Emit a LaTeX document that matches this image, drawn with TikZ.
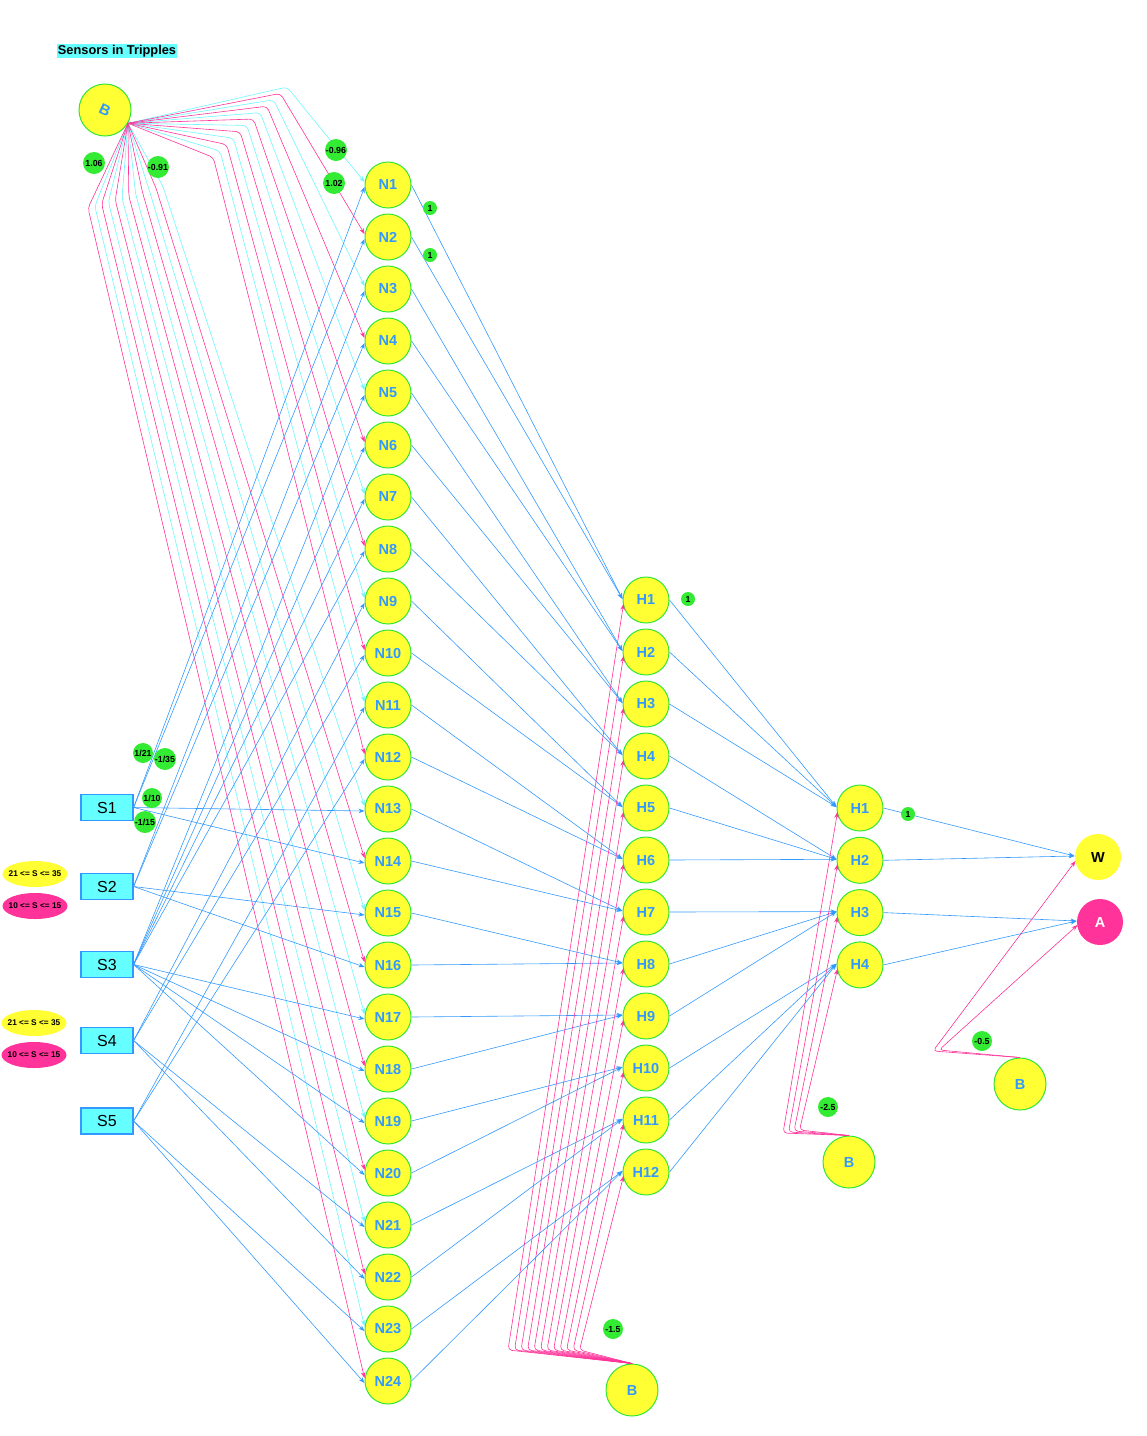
\documentclass[tikz,border=0pt]{standalone}
\usepackage{fontspec}
\setmainfont{Liberation Sans}
\usetikzlibrary{arrows.meta,calc,shapes.geometric}
\definecolor{nyellow}{RGB}{255,255,51}
\definecolor{ngreen}{RGB}{51,230,51}
\definecolor{lgreen}{RGB}{51,235,51}
\definecolor{lblue}{RGB}{51,153,255}
\definecolor{lcyan}{RGB}{110,245,255}
\definecolor{lpink}{RGB}{255,51,153}
\definecolor{scyan}{RGB}{102,255,255}
\begin{document}
\begin{tikzpicture}[x=1pt,y=-1pt,
  neuron/.style={circle, draw=ngreen, fill=nyellow, line width=1pt, minimum size=46pt, inner sep=0pt, text=lblue, font=\fontsize{14.5}{15}\selectfont\bfseries},
  biasn/.style={neuron, minimum size=52pt},
  sensor/.style={rectangle, draw=lblue, fill=scyan, line width=1.2pt, minimum width=52pt, minimum height=26pt, inner sep=0pt, font=\fontsize{16}{16}\selectfont},
  wt/.style={circle, fill=lgreen, inner sep=0pt, minimum size=22pt, font=\fontsize{8.8}{9}\selectfont\bfseries},
  wts/.style={wt, minimum size=14pt},
  legy/.style={ellipse, fill=nyellow, minimum width=65pt, minimum height=26pt, inner xsep=-6pt, inner ysep=0pt, font=\fontsize{8.3}{9}\selectfont\bfseries},
  legp/.style={legy, fill=lpink},
  tip/.style={-{Stealth[length=6pt,width=4.5pt]}},
  edge/.style={draw=lblue, line width=0.6pt, tip},
  cb/.style={draw=lcyan, line width=0.6pt, rounded corners=4pt, tip},
  pb/.style={draw=lpink, line width=0.6pt, rounded corners=4pt, tip}
]
\useasboundingbox (0,0) rectangle (1147,1436);

% title
\node[fill=scyan, inner sep=1pt, font=\fontsize{12.8}{13}\selectfont\bfseries] (title) at (117,51) {Sensors in Tripples};

% legend
\node[legy] (l1) at (35,874) {21 <= S <= 35};
\node[legp] (l2) at (35,906) {10 <= S <= 15};
\node[legy] (l3) at (34,1023) {21 <= S <= 35};
\node[legp] (l4) at (34,1055) {10 <= S <= 15};

% nodes
\foreach \k in {1,...,24} \node[neuron] (N\k) at (388,{185+52*(\k-1)}) {N\k};
\foreach \k in {1,...,12} \node[neuron] (H\k) at (646,{600+52*(\k-1)}) {H\k};
\foreach \k in {1,...,4} \node[neuron] (G\k) at (860,{808+52.3*(\k-1)}) {H\k};
\node[neuron, draw=none, text=black] (W) at (1098,857) {W};
\node[neuron, draw=none, fill=lpink, text=white] (A) at (1100,922) {A};

\node[sensor] (S1) at (107,807.5) {S1};
\node[sensor] (S2) at (107,886.5) {S2};
\node[sensor] (S3) at (107,964.5) {S3};
\node[sensor] (S4) at (107,1040.5) {S4};
\node[sensor] (S5) at (107,1121) {S5};

\node[biasn] (B0) at (105,110) {};
\node[text=lblue, font=\fontsize{15}{15}\selectfont\bfseries, rotate=-25] (B0t) at (B0) {B};
\node[biasn] (B1) at (632,1390) {B};
\node[biasn] (B2) at (849,1162) {B};
\node[biasn] (B3) at (1020,1084) {B};

% top bias -> N1..N12 (upper route)
\foreach \k in {1,3,5,7,9,11}
  \draw[cb] (B0.-30) -- ({287-(\k-1)*6.7},{87+(\k-1)*6.4}) -- ($(N\k.west)+(0,-3)$);
\foreach \k in {2,4,6,8,10,12}
  \draw[pb] (B0.-30) -- ({287-(\k-1)*6.7},{87+(\k-1)*6.4}) -- ($(N\k.west)+(0,-3)$);
% top bias -> N13..N24 (lower route)
\foreach \k in {13,15,17,19,21,23}
  \draw[cb] (B0.-30) -- ({88+6.8*(24-\k)},{208-2*(24-\k)}) -- ($(N\k.west)+(0,-3)$);
\foreach \k in {14,16,18,20,22,24}
  \draw[pb] (B0.-30) -- ({88+6.8*(24-\k)},{208-2*(24-\k)}) -- ($(N\k.west)+(0,-3)$);

% sensors -> N
\foreach \s/\lst in {1/{1,2,13,14},2/{3,4,15,16},3/{5,6,7,8,17,18,19,20},4/{9,10,21,22},5/{11,12,23,24}}
  \foreach \n in \lst
    \draw[edge] (S\s.east) -- ($(N\n.west)+(0,2)$);

% N -> H
\foreach \k in {1,...,24} {
  \pgfmathtruncatemacro{\m}{(\k+1)/2}
  \draw[edge] (N\k.east) -- ($(H\m.west)+(0,-1)$);
}
% H -> G
\foreach \k in {1,...,12} {
  \pgfmathtruncatemacro{\m}{(\k+2)/3}
  \draw[edge] (H\k.east) -- ($(G\m.west)+(0,-1)$);
}
% G -> outputs
\draw[edge] (G1.east) -- ($(W.west)+(0,-1)$);
\draw[edge] (G2.east) -- ($(W.west)+(0,-1)$);
\draw[edge] (G3.east) -- ($(A.west)+(0,-1)$);
\draw[edge] (G4.east) -- ($(A.west)+(0,-1)$);

% bottom bias -> H
\foreach \k in {1,...,12}
  \draw[pb] (B1.north) -- ({508+6.5*(\k-1)},1350) -- ($(H\k.west)+(1,4)$);
% mid bias -> G
\foreach \k in {1,...,4}
  \draw[pb] (B2.north) -- ({783+5.5*(\k-1)},{1133-(\k-1)}) -- ($(G\k.west)+(1,4)$);
% right bias -> W, A
\draw[pb] (B3.north) -- (933,1051) -- ($(W.west)+(1,4)$);
\draw[pb] (B3.north) -- (939,1050) -- ($(A.west)+(1,3)$);

% weight labels
\node[wt] (w1) at (94,163) {1.06};
\node[wt] (w2) at (158,167) {-0.91};
\node[wt] (w3) at (336,150) {-0.96};
\node[wt] (w4) at (334,183) {1.02};
\node[wts] (w5) at (430,208) {1};
\node[wts] (w6) at (430,255) {1};
\node[wts] (w7) at (688,599) {1};
\node[wt, minimum size=20pt] (w8) at (143,753) {1/21};
\node[wt] (w9) at (165,759) {-1/35};
\node[wt, minimum size=20pt] (w10) at (152,798) {1/10};
\node[wt] (w11) at (145,822) {-1/15};
\node[wts] (w12) at (908,814) {1};
\node[wt, minimum size=20pt] (w13) at (828,1107) {-2.5};
\node[wt, minimum size=20pt] (w14) at (982,1041) {-0.5};
\node[wt, minimum size=20pt] (w15) at (613,1329) {-1.5};
\end{tikzpicture}
\end{document}
